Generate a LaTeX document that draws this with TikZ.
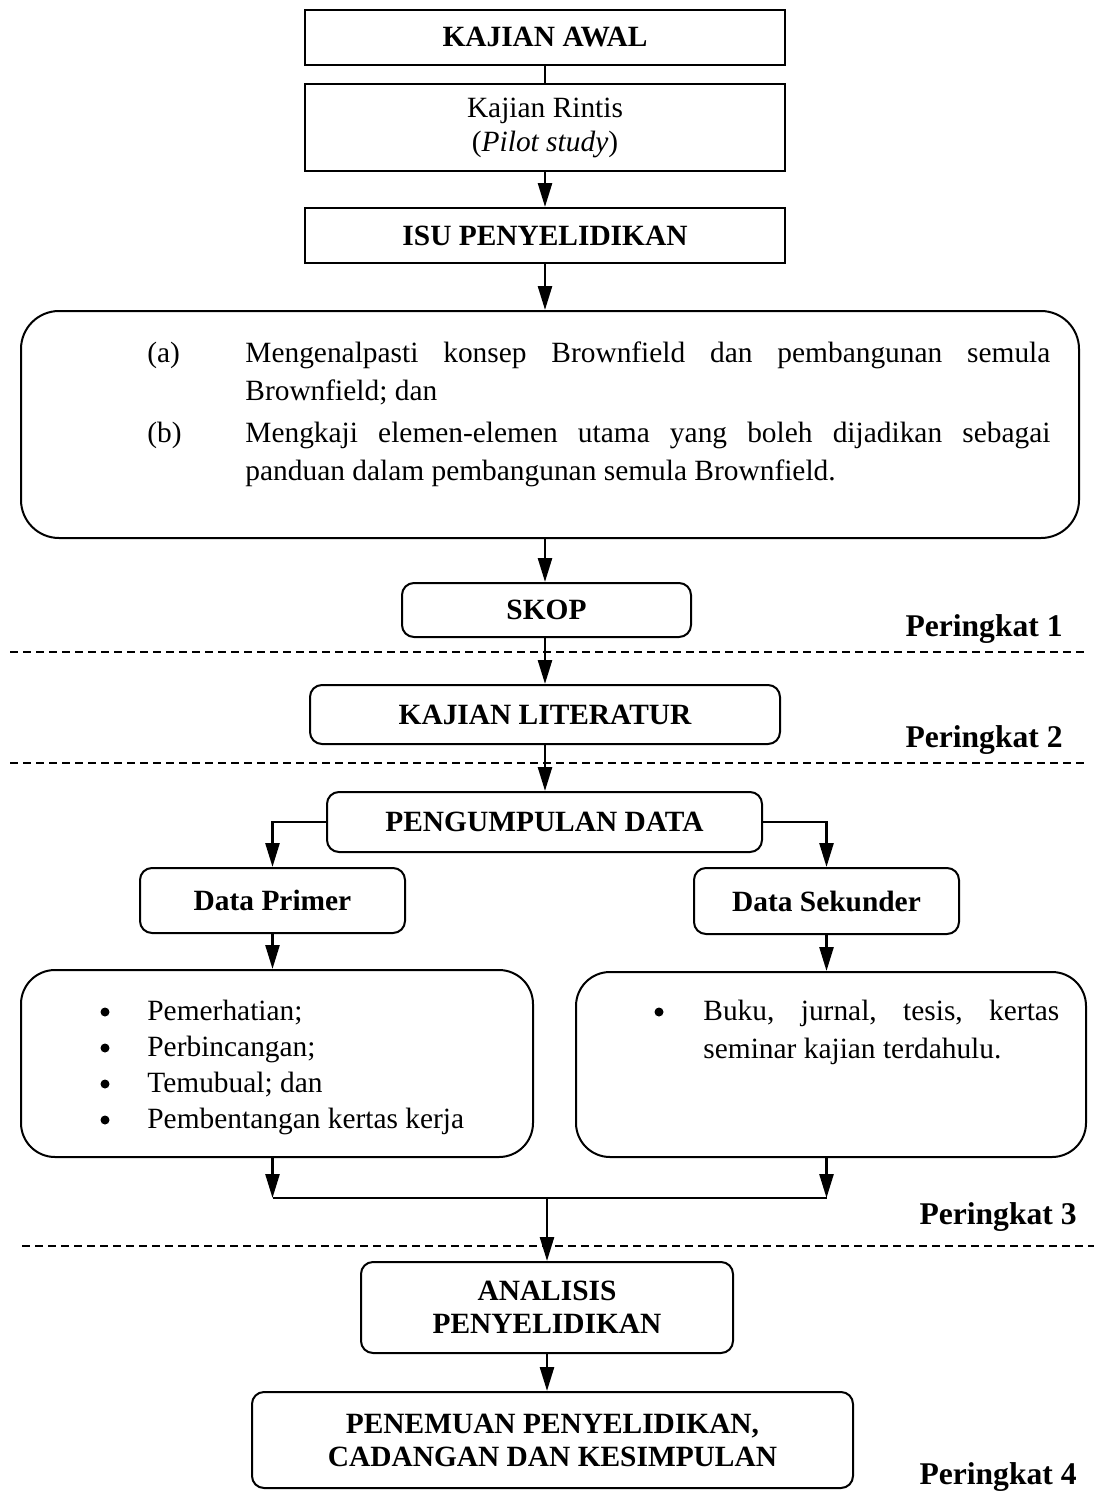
\documentclass[tikz,border=0pt]{standalone}
\usepackage{fontspec}
\setmainfont{Liberation Serif}
\usetikzlibrary{arrows.meta}
\hyphenpenalty=10000
\exhyphenpenalty=10000
\begin{document}
\begin{tikzpicture}[x=0.5pt,y=-0.5pt,
 box/.style={draw, line width=1pt, inner sep=0pt, font=\fontsize{14.7}{17}\selectfont\bfseries, align=center},
 rbox/.style={box, rounded corners=6pt},
 bigbox/.style={draw, line width=1pt, inner sep=0pt, rounded corners=19pt},
 arr/.style={line width=1.3pt, -{Triangle[length=12pt,width=7pt]}},
 ln/.style={line width=1.3pt},
 txt/.style={inner sep=0pt, font=\fontsize{14.7}{19}\selectfont},
 bul/.style={circle, fill, inner sep=0pt, minimum size=4.5pt},
 lvl/.style={inner sep=0pt, font=\fontsize{15.8}{19}\selectfont\bfseries, anchor=base east},
 sep/.style={dash pattern=on 4pt off 2.5pt, line width=0.8pt}
]
\useasboundingbox (0,0) rectangle (1094,1504);

% top boxes
\node[box, minimum width=240pt, minimum height=27.5pt] (awal) at (545,37.5) {KAJIAN AWAL};
\node[box, font=\fontsize{14.7}{17}\selectfont, minimum width=240pt, minimum height=43.5pt] (rintis) at (545,127.5) {Kajian Rintis\\(\textit{Pilot study})};
\node[box, minimum width=240pt, minimum height=27.5pt] (isu) at (545,235.5) {ISU PENYELIDIKAN};

% objectives box
\node[bigbox, minimum width=529pt, minimum height=113.5pt] (tujuan) at (550,424.5) {};
\node[txt, anchor=base west] (la) at (147,362) {(a)};
\node[txt, anchor=base west, text width=402.5pt, align=justify] (ta) at (245,362) {Mengenalpasti konsep Brownfield dan pembangunan semula Brownfield; dan};
\node[txt, anchor=base west] (lb) at (147,442) {(b)};
\node[txt, anchor=base west, text width=402.5pt, align=justify] (tb) at (245,442) {Mengkaji elemen-elemen utama yang boleh dijadikan sebagai panduan dalam pembangunan semula Brownfield.};

% stage boxes
\node[rbox, minimum width=144.5pt, minimum height=27pt] (skop) at (546.5,610) {SKOP};
\node[rbox, minimum width=235pt, minimum height=29.5pt] (lit) at (545,714.5) {KAJIAN LITERATUR};
\node[rbox, minimum width=217.5pt, minimum height=30pt] (data) at (544.5,822) {PENGUMPULAN DATA};
\node[rbox, minimum width=132.5pt, minimum height=32.5pt] (primer) at (272.5,900.5) {Data Primer};
\node[rbox, minimum width=132.5pt, minimum height=33pt] (sekunder) at (826.5,901) {Data Sekunder};

% data boxes
\node[bigbox, rounded corners=17pt, minimum width=256pt, minimum height=93.5pt] (lbig) at (277,1063.5) {};
\node[bigbox, rounded corners=17pt, minimum width=255pt, minimum height=92.5pt] (rbig) at (831,1064.5) {};
\node[bul] (bu1) at (105,1012) {};
\node[txt, anchor=base west] (p1) at (147,1020) {Pemerhatian;};
\node[bul] (bu2) at (105,1048) {};
\node[txt, anchor=base west] (p2) at (147,1056) {Perbincangan;};
\node[bul] (bu3) at (105,1084) {};
\node[txt, anchor=base west] (p3) at (147,1092) {Temubual; dan};
\node[bul] (bu4) at (105,1120) {};
\node[txt, anchor=base west] (p4) at (147,1128) {Pembentangan kertas kerja};
\node[bul] (bu5) at (659,1012) {};
\node[txt, anchor=base west, text width=178pt, align=justify] (s1) at (703,1020) {Buku, jurnal, tesis, kertas seminar kajian terdahulu.};

% final boxes
\node[rbox, font=\fontsize{14.7}{16.5}\selectfont\bfseries, minimum width=186pt, minimum height=45.5pt] (anal) at (547,1307.5) {ANALISIS\\PENYELIDIKAN};
\node[rbox, font=\fontsize{14.7}{16.5}\selectfont\bfseries, minimum width=300.5pt, minimum height=48pt] (temu) at (552.5,1440) {PENEMUAN PENYELIDIKAN,\\CADANGAN DAN KESIMPULAN};

% level labels
\node[lvl] (pk1) at (1063,636) {Peringkat 1};
\node[lvl] (pk2) at (1063,747) {Peringkat 2};
\node[lvl] (pk3) at (1077,1224) {Peringkat 3};
\node[lvl] (pk4) at (1077,1484) {Peringkat 4};

% separators
\draw[sep] (10,652) -- (1088,652);
\draw[sep] (10,763) -- (1088,763);
\draw[sep] (22,1246) -- (1094,1246);

% connectors
\draw[ln] (awal.south) -- (rintis.north);
\draw[arr] (rintis.south) -- (isu.north);
\draw[arr] (isu.south) -- (isu.south |- tujuan.north);
\draw[arr] (isu.south |- tujuan.south) -- (isu.south |- skop.north);
\draw[arr] (isu.south |- skop.south) -- (lit.north);
\draw[arr] (lit.south) -- (lit.south |- data.north);
\draw[arr] (data.west) -| (primer.north);
\draw[arr] (data.east) -| (sekunder.north);
\draw[arr] (primer.south) -- (primer.south |- lbig.north);
\draw[arr] (sekunder.south) -- (sekunder.south |- rbig.north);
\coordinate (j1) at (272.5,1198);
\coordinate (j2) at (826.5,1198);
\coordinate (jm) at (547,1198);
\draw[arr] (primer.south |- lbig.south) -- (j1);
\draw[arr] (sekunder.south |- rbig.south) -- (j2);
\draw[ln] (j1) -- (j2);
\draw[arr] (jm) -- (jm |- anal.north);
\draw[arr] (anal.south) -- (anal.south |- temu.north);
\end{tikzpicture}
\end{document}
